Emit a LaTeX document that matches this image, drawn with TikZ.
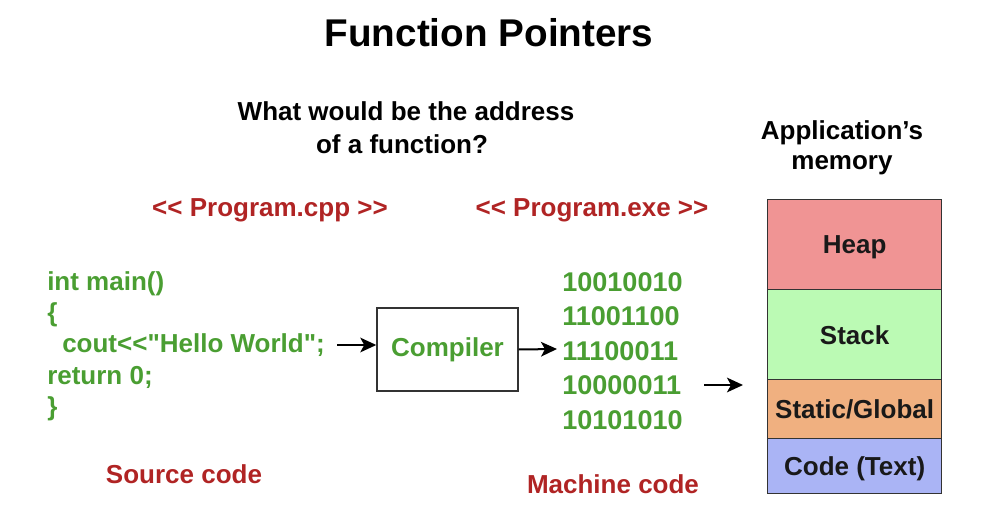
\documentclass[tikz,border=0pt]{standalone}
\usepackage{fontspec}
\setmainfont{Liberation Sans}[Ligatures=TeXOff]
\usetikzlibrary{arrows.meta}
\definecolor{cgreen}{RGB}{74,158,50}
\definecolor{cred}{RGB}{176,36,36}
\definecolor{heapc}{RGB}{240,148,148}
\definecolor{stackc}{RGB}{187,250,180}
\definecolor{staticc}{RGB}{240,176,128}
\definecolor{codec}{RGB}{170,180,245}
\begin{document}
\begin{tikzpicture}[x=0.75pt,y=-0.75pt,
  txt/.style={font=\fontsize{19.5}{23}\selectfont\bfseries, inner sep=0pt},
  gtxt/.style={txt, text=cgreen},
  btxt/.style={gtxt, font=\fontsize{20.3}{24}\selectfont\bfseries},
  rtxt/.style={txt, text=cred},
  ktxt/.style={txt, text=black},
  arr/.style={-{Stealth[length=12pt,width=11pt,inset=3pt]}, line width=1.5pt},
  membox/.style={draw=black!80, line width=1pt, minimum width=130.5pt, anchor=north west, inner sep=0pt, txt, text=black!90, text depth=0pt}
]
\useasboundingbox (0,0) rectangle (986,528);

% title
\node[inner sep=0pt, anchor=base, font=\fontsize{29}{33}\selectfont\bfseries] (title) at (489,46.5) {Function Pointers};

% question
\node[ktxt, anchor=base] (q1) at (406,121) {What would be the address};
\node[ktxt, anchor=base] (q2) at (402,153) {of a function?};

% application memory caption
\node[ktxt, anchor=base] (am1) at (842,140) {Application’s};
\node[ktxt, anchor=base] (am2) at (842,170) {memory};

% program labels
\node[rtxt, anchor=base] (pcpp) at (270,216) {<< Program.cpp >>};
\node[rtxt, anchor=base] (pexe) at (592,216) {<< Program.exe >>};

% source code
\node[gtxt, anchor=base west] (c1) at (47,290) {int main()};
\node[gtxt, anchor=base west] (c2) at (47,321) {\{};
\node[gtxt, anchor=base west] (c3) at (62,352) {cout<<"Hello World";};
\node[gtxt, anchor=base west] (c4) at (47,384) {return 0;};
\node[gtxt, anchor=base west] (c5) at (47,415) {\}};

% compiler
\node[draw=black!80, line width=1.1pt, minimum width=105.75pt, minimum height=62.25pt, inner sep=0pt, gtxt] (comp) at (447.5,349.5) {Compiler};

% machine code
\node[btxt, anchor=base west] (b1) at (562,291) {10010010};
\node[btxt, anchor=base west] (b2) at (562,325.5) {11001100};
\node[btxt, anchor=base west] (b3) at (562,360) {11100011};
\node[btxt, anchor=base west] (b4) at (562,394.5) {10000011};
\node[btxt, anchor=base west] (b5) at (562,429) {10101010};

% memory
\node[membox, fill=heapc, minimum height=67.5pt] (heap) at (767,199) {Heap};
\node[membox, fill=stackc, minimum height=67.5pt] (stack) at (767,289) {Stack};
\node[membox, fill=staticc, minimum height=44.25pt] (static) at (767,379) {Static/Global};
\node[membox, fill=codec, minimum height=41.25pt] (code) at (767,438) {Code (Text)};

% bottom labels
\node[rtxt, anchor=base] (src) at (184,483) {Source code};
\node[rtxt, anchor=base] (mach) at (613,493) {Machine code};

% arrows
\coordinate (a1s) at (337,345);
\draw[arr] (a1s) -- (a1s -| comp.west);
\coordinate (a2e) at (557,349);
\draw[arr] (comp.east) -- (a2e);
\coordinate (a3s) at (704,385);
\coordinate (a3e) at (743,385);
\draw[arr] (a3s) -- (a3e);
\end{tikzpicture}
\end{document}
